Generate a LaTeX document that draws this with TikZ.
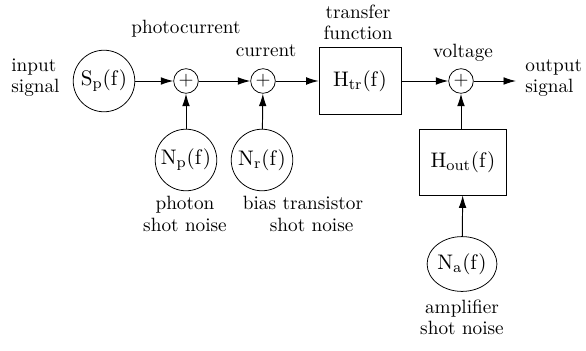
\documentclass[tikz,border=0pt]{standalone}
\usetikzlibrary{arrows.meta,shapes.geometric}
\begin{document}
\begin{tikzpicture}[x=0.52pt,y=-0.52pt,
  src/.style={draw,circle,minimum size=32pt,inner sep=0pt,font=\fontsize{11.2}{13}\selectfont},
  sumnode/.style={draw,circle,minimum size=12.8pt,inner sep=0pt},
  block/.style={draw,rectangle,inner sep=0pt,font=\fontsize{11.2}{13}\selectfont},
  lbl/.style={inner sep=0pt,align=center},
  conn/.style={-{Latex[length=6.5pt,width=4pt]},line width=0.5pt}]
\useasboundingbox (0,0) rectangle (586,350);
% main chain
\node[src] (sp) at (104,81) {$\mathrm{S_p(f)}$};
\node[sumnode] (s1) at (186,81) {$+$};
\node[sumnode] (s2) at (263,81) {$+$};
\node[block,minimum width=42.6pt,minimum height=34.8pt] (htr) at (360,81) {$\mathrm{H_{tr}(f)}$};
\node[sumnode] (s3) at (461,81) {$+$};
\coordinate (out) at (516,81);
% noise sources
\node[src] (np) at (186,160) {$\mathrm{N_p(f)}$};
\node[src] (nr) at (262,160) {$\mathrm{N_r(f)}$};
\node[block,minimum width=45.2pt,minimum height=34.3pt] (hout) at (463,162) {$\mathrm{H_{out}(f)}$};
\node[draw,ellipse,minimum width=32pt,minimum height=28.5pt,inner sep=0pt,font=\fontsize{11.2}{13}\selectfont] (na) at (462,264) {$\mathrm{N_a(f)}$};
% connectors
\draw[conn] (sp) -- (s1);
\draw[conn] (s1) -- (s2);
\draw[conn] (s2) -- (htr);
\draw[conn] (htr) -- (s3);
\draw[conn] (s3) -- (out);
\draw[conn] (np) -- (s1);
\draw[conn] (nr) -- (s2);
\draw[conn] (na) -- (hout);
\draw[conn] (hout.north -| s3) -- (s3);
% labels
\node[lbl,anchor=west,align=left] (in) at (11,78) {input\\[-1pt]signal};
\node[lbl,anchor=west,align=left] (outl) at (525,78) {output\\[-1pt]signal};
\node[lbl] (pc) at (186,29) {photocurrent};
\node[lbl] (cu) at (266,51) {current};
\node[lbl] (tf) at (358,22) {transfer\\[-1pt]function};
\node[lbl] (vo) at (463,53) {voltage};
\node[lbl] (pl) at (185,214) {photon\\[-1pt]shot noise};
\node[lbl,align=left] (bl) at (303,214) {bias transistor\\[-1pt]\hspace*{14pt}shot noise};
\node[lbl] (al) at (462,317) {amplifier\\[-1pt]shot noise};
\end{tikzpicture}
\end{document}
